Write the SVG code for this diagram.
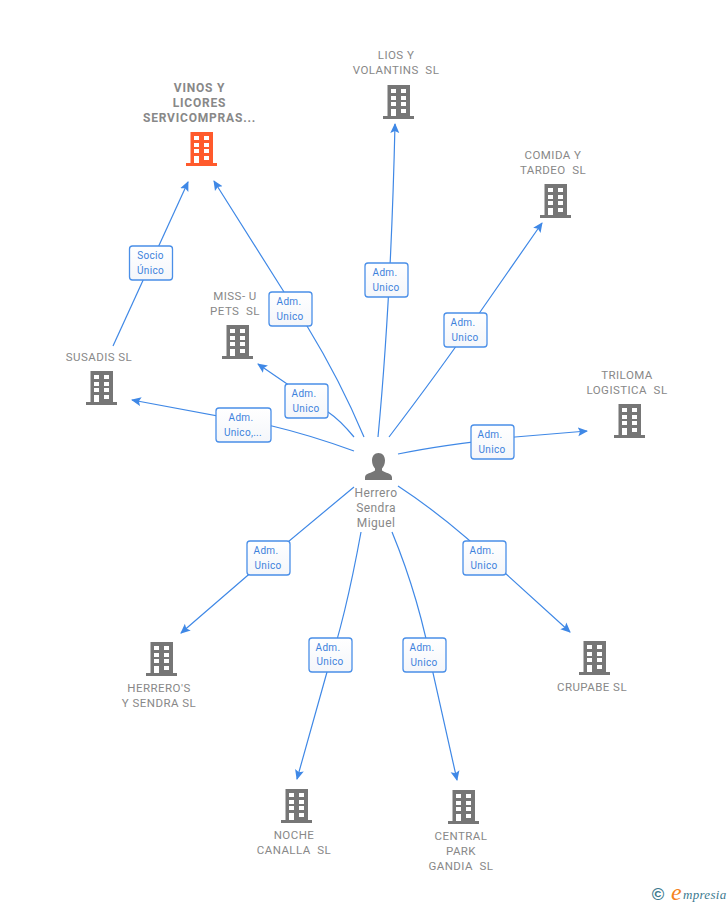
<svg xmlns="http://www.w3.org/2000/svg" width="728" height="905" viewBox="0 0 728 905">
<style>
.n{font-family:Roboto,"Liberation Sans",sans-serif;font-size:11.500px;fill:#888;text-anchor:middle;letter-spacing:.45px;white-space:pre}
.b{font-weight:700;font-size:12px;letter-spacing:.8px}
.p{font-size:12px;letter-spacing:.4px}
.c{fill:none;stroke:#3f88e6;stroke-width:1.200}
.lb{fill:url(#lg);stroke:#4a8fe8;stroke-width:1.300}
.lt{font-family:Roboto,"Liberation Sans",sans-serif;font-size:10px;fill:#3c82dc;text-anchor:middle;letter-spacing:.3px}
.g{fill:#767676}
.r{fill:#ff5a2c}
</style>
<defs>
<linearGradient id="lg" x1="0" y1="0" x2="0" y2="1"><stop offset="0" stop-color="#fff"/><stop offset="1" stop-color="#f4f6fa"/></linearGradient>
<path id="bld" fill-rule="evenodd" d="M4.500 0H27V31H31V34H0V31H4.500ZM8 4V8H13V4ZM18 4V8H23V4ZM8 11V15H13V11ZM18 11V15H23V11ZM8 17V21H13V17ZM18 17V21H23V17ZM8 24V31H13V24ZM18 24V28H23V24Z"/>
<marker id="a" markerWidth="11" markerHeight="11" refX="9" refY="5" orient="auto" markerUnits="userSpaceOnUse"><path d="M0 0.500L10 5L0 9.500L2 5Z" fill="#3f88e6"/></marker>
</defs>
<g id="connectors">
<path class="c" marker-end="url(#a)" d="M113 346L188 182"/>
<path class="c" marker-end="url(#a)" d="M364 437Q340 380 307 326L284 292L214 181"/>
<path class="c" marker-end="url(#a)" d="M378 437Q391 300 395 124"/>
<path class="c" marker-end="url(#a)" d="M389 437Q440 370 478 315L542 223"/>
<path class="c" marker-end="url(#a)" d="M354 437Q340 420 328 412L258 364"/>
<path class="c" marker-end="url(#a)" d="M354 451Q310 435 272 426L132 400"/>
<path class="c" marker-end="url(#a)" d="M398 454Q440 445 515 437L587 431"/>
<path class="c" marker-end="url(#a)" d="M354 487L247 576L181 633"/>
<path class="c" marker-end="url(#a)" d="M361 532Q345 620 327 672L297 779"/>
<path class="c" marker-end="url(#a)" d="M392 532Q420 600 433 673L457 780"/>
<path class="c" marker-end="url(#a)" d="M398 486Q450 520 505 573L570 632"/>
</g>
<g id="edge-labels">
<g><rect class="lb" x="129.500" y="246" width="43" height="34" rx="3"/><text class="lt" x="150.500" y="259">Socio</text><text class="lt" x="150.500" y="274">Único</text></g>
<g><rect class="lb" x="269" y="292" width="43" height="34" rx="3"/><text class="lt" x="289" y="305">Adm.</text><text class="lt" x="290" y="320">Unico</text></g>
<g><rect class="lb" x="365" y="263" width="43" height="34" rx="3"/><text class="lt" x="385" y="276">Adm.</text><text class="lt" x="386" y="291">Unico</text></g>
<g><rect class="lb" x="444" y="313" width="43" height="34" rx="3"/><text class="lt" x="463" y="326">Adm.</text><text class="lt" x="465" y="341">Unico</text></g>
<g><rect class="lb" x="285" y="384" width="43" height="34" rx="3"/><text class="lt" x="304" y="397">Adm.</text><text class="lt" x="306" y="412">Unico</text></g>
<g><rect class="lb" x="216" y="408" width="55" height="34" rx="3"/><text class="lt" x="241" y="421">Adm.</text><text class="lt" x="243" y="436">Unico,...</text></g>
<g><rect class="lb" x="471" y="425" width="43" height="34" rx="3"/><text class="lt" x="490" y="438">Adm.</text><text class="lt" x="492" y="453">Unico</text></g>
<g><rect class="lb" x="247" y="541" width="43" height="34" rx="3"/><text class="lt" x="266" y="554">Adm.</text><text class="lt" x="268" y="569">Unico</text></g>
<g><rect class="lb" x="463" y="541" width="43" height="34" rx="3"/><text class="lt" x="482" y="554">Adm.</text><text class="lt" x="484" y="569">Unico</text></g>
<g><rect class="lb" x="309" y="638" width="43" height="34" rx="3"/><text class="lt" x="328" y="651">Adm.</text><text class="lt" x="330" y="665">Unico</text></g>
<g><rect class="lb" x="403" y="638" width="43" height="34" rx="3"/><text class="lt" x="422" y="651">Adm.</text><text class="lt" x="424" y="666">Unico</text></g>
</g>
<g id="vinos"><use href="#bld" class="r" x="186" y="132"/><text class="n b" x="199.500" y="92">VINOS Y</text><text class="n b" x="199.500" y="107">LICORES</text><text class="n b" x="199.500" y="122">SERVICOMPRAS...</text></g>
<g id="lios"><use href="#bld" class="g" x="383" y="85"/><text class="n" x="396" y="59">LIOS Y</text><text class="n" x="396" y="74">VOLANTINS  SL</text></g>
<g id="comida"><use href="#bld" class="g" x="540" y="184"/><text class="n" x="553" y="159">COMIDA Y</text><text class="n" x="553" y="174">TARDEO  SL</text></g>
<g id="miss"><use href="#bld" class="g" x="222" y="325"/><text class="n" x="235" y="300">MISS- U</text><text class="n" x="235" y="315">PETS  SL</text></g>
<g id="susadis"><use href="#bld" class="g" x="86" y="371"/><text class="n" x="99" y="361">SUSADIS SL</text></g>
<g id="triloma"><use href="#bld" class="g" x="614" y="404"/><text class="n" x="627" y="379">TRILOMA</text><text class="n" x="627" y="394">LOGISTICA  SL</text></g>
<g id="herreros"><use href="#bld" class="g" x="146" y="642"/><text class="n" x="159" y="692">HERRERO'S</text><text class="n" x="159" y="707">Y SENDRA SL</text></g>
<g id="noche"><use href="#bld" class="g" x="281" y="789"/><text class="n" x="294" y="839">NOCHE</text><text class="n" x="294" y="854">CANALLA  SL</text></g>
<g id="central"><use href="#bld" class="g" x="448" y="790"/><text class="n" x="461" y="840">CENTRAL</text><text class="n" x="461" y="855">PARK</text><text class="n" x="461" y="870">GANDIA  SL</text></g>
<g id="crupabe"><use href="#bld" class="g" x="579" y="641"/><text class="n" x="592" y="691">CRUPABE SL</text></g>
<g id="person"><path class="g" d="M378.500 453C382.500 453 385 456 385 460.500C385 464 383.500 467 382 468.500V470.500C385 473 392 473 392 477.500V480H365V477.500C365 473 372 473 375 470.500V468.500C373.500 467 372 464 372 460.500C372 456 374.500 453 378.500 453Z"/><text class="n p" x="376" y="497">Herrero</text><text class="n p" x="376" y="512">Sendra</text><text class="n p" x="376" y="527">Miguel</text></g>
<g id="logo"><text x="658" y="900" font-family="Liberation Sans,sans-serif" font-size="17" font-weight="700" fill="#3d7a8f" text-anchor="middle">©</text><text x="671" y="900" font-family="Liberation Serif,serif" font-style="italic" font-size="24" fill="#f58220">e</text><text x="683" y="899" font-family="Liberation Serif,serif" font-style="italic" font-size="13" fill="#3d7a8f" letter-spacing=".3">mpresia</text></g>
</svg>
